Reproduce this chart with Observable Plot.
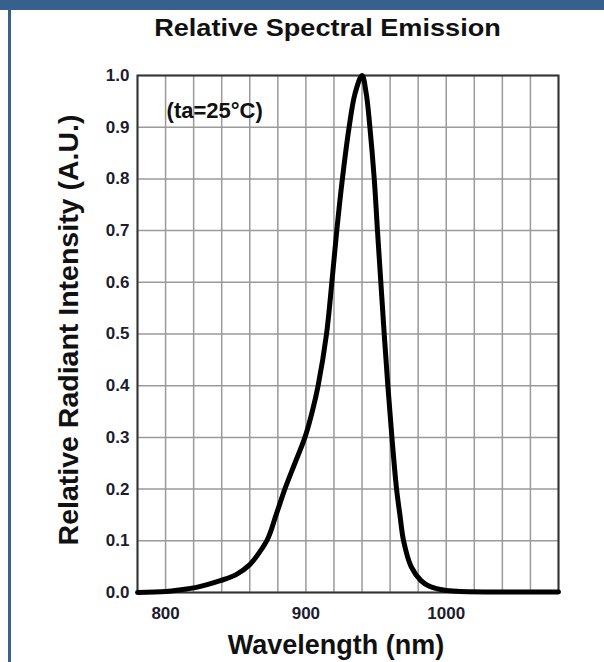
<!DOCTYPE html>
<html><head><meta charset="utf-8">
<script src="https://cdn.jsdelivr.net/npm/d3@7"></script>
<script src="https://cdn.jsdelivr.net/npm/@observablehq/plot@0.6"></script>
<style>
body{margin:0;background:#fff;font-family:"Liberation Sans",Arial,sans-serif;}
#wrap{position:relative;width:604px;height:662px;overflow:hidden;background:#fff}
#band{position:absolute;left:0;top:0;width:604px;height:10px;background:#37608f}
#edge{position:absolute;left:8px;top:0;width:3px;height:662px;background:#37608f}
#title{position:absolute;left:0;top:16px;width:655px;text-align:center;font-weight:bold;font-size:24px;line-height:1;color:#111;transform:scaleX(1.13);transform-origin:327.5px 0}
#chart{position:absolute;left:0;top:60px}
#chart svg{overflow:visible}
</style></head>
<body><div id="wrap"><div id="band"></div><div id="edge"></div>
<div id="title">Relative Spectral Emission</div>
<div id="chart"></div></div>
<script>
const wavelength = [780, 800, 810, 822, 839, 850, 860, 867, 873, 879, 885, 892, 899.3, 904.7, 908.7, 914.7, 918.5, 922, 926, 930.8, 935, 940, 943, 945.6, 948.7, 951, 953.4, 955.8, 958.4, 961.3, 964.6, 967, 969.6, 975, 982, 988, 994, 1000, 1010, 1080];
const intensity  = [0, 0.002, 0.005, 0.01, 0.023, 0.034, 0.054, 0.078, 0.105, 0.152, 0.2, 0.249, 0.3, 0.352, 0.4, 0.5, 0.6, 0.7, 0.8, 0.9, 0.965, 1.0, 0.965, 0.9, 0.8, 0.7, 0.6, 0.5, 0.4, 0.3, 0.2, 0.15, 0.1, 0.05, 0.023, 0.012, 0.007, 0.004, 0.002, 0.001];
const xTickLabels = [800, 900, 1000];
const yTickLabels = [0, 0.1, 0.2, 0.3, 0.4, 0.5, 0.6, 0.7, 0.8, 0.9, 1.0];
const xGrid = d3.range(780, 1081, 20);
const annotation = [{x: 835, y: 0.932, text: "(ta=25°C)"}];
const xLabel = "Wavelength (nm)";
const yLabel = "Relative Radiant Intensity (A.U.)";

const data = wavelength.map((w, i) => ({w, v: intensity[i]}));
const font = '"Liberation Sans", Arial, sans-serif';
const tickColor = "#1c1c2e";

const chart = Plot.plot({
  width: 604,
  height: 602,
  marginTop: 15,
  marginBottom: 70,
  marginLeft: 137,
  marginRight: 46,
  style: {fontFamily: font, background: "transparent", overflow: "visible"},
  x: {domain: [780, 1080]},
  y: {domain: [0, 1]},
  marks: [
    Plot.gridX(xGrid, {stroke: "#9a9a9a", strokeOpacity: 1, strokeWidth: 1.5}),
    Plot.gridY(yTickLabels, {stroke: "#9a9a9a", strokeOpacity: 1, strokeWidth: 1.5}),
    Plot.frame({stroke: "#333", strokeWidth: 2}),
    Plot.axisX(xTickLabels, {tickSize: 0, tickPadding: 14, fontSize: 17, fontWeight: "bold", fill: tickColor, tickFormat: d3.format("d"), label: null}),
    Plot.axisY(yTickLabels, {tickSize: 0, tickPadding: 8, fontSize: 17, fontWeight: "bold", fill: tickColor, tickFormat: d3.format(".1f"), label: null}),
    Plot.line(data, {x: "w", y: "v", stroke: "#000", strokeWidth: 5, curve: "catmull-rom"}),
    Plot.text(annotation, {x: "x", y: "y", text: "text", fontSize: 22, fontWeight: "bold", fill: "#111"}),
    Plot.text([xLabel], {frameAnchor: "bottom", dx: -12, dy: 61, fontSize: 27, fontWeight: "bold", fill: "#111"}),
    Plot.text([yLabel], {frameAnchor: "left", textAnchor: "middle", rotate: -90, dx: -69, dy: -4, fontSize: 28.5, fontWeight: "bold", fill: "#111"})
  ]
});
document.getElementById("chart").appendChild(chart);
</script>
</body></html>
